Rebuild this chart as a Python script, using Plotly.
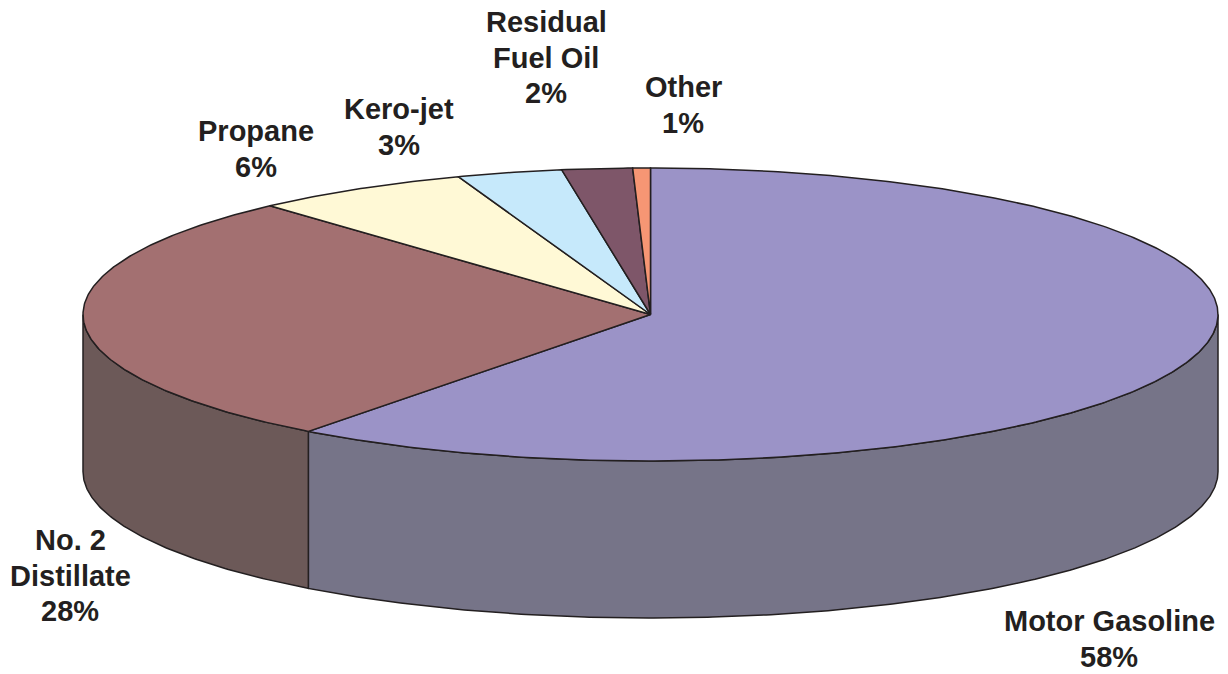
import numpy as np
import plotly.graph_objects as go

# Slice sizes as drawn (share of the full turn)
categories = ["Motor Gasoline", "No. 2 Distillate", "Propane", "Kero-jet", "Residual Fuel Oil", "Other"]
drawn_shares = [60.3, 28.0, 6.2, 3.0, 2.0, 0.5]
percent_labels = ["58%", "28%", "6%", "3%", "2%", "1%"]
label_lines = [["Motor Gasoline"], ["No. 2", "Distillate"], ["Propane"], ["Kero-jet"], ["Residual", "Fuel Oil"], ["Other"]]
top_colors = ["#9B93C7", "#A37071", "#FFF9D6", "#C6E9FB", "#7E5669", "#F69674"]
side_colors = ["#767488", "#6C5958", None, None, None, None]
label_x = [1109, 70, 256, 399, 546, 683]
label_first_y = [621, 540, 131, 109, 22, 87]

CX, CY, RX, RY, DEPTH = 650.5, 314.5, 567.5, 146.5, 157
LINE_STEP = 35.7
LINE = dict(color="#231F20", width=1.5)


def rim(a0, a1, dy=0.0):
    """Ellipse points between two clockwise angles measured from the top."""
    n = max(2, int(abs(a1 - a0) * 2) + 2)
    t = np.radians(np.linspace(a0, a1, n))
    return CX + RX * np.sin(t), CY - RY * np.cos(t) + dy


edges = 360 * np.concatenate([[0], np.cumsum(drawn_shares)]) / sum(drawn_shares)
fig = go.Figure()

# Side wall: only the front half (90 to 270 degrees) is visible
for i, color in enumerate(side_colors):
    if color is None:
        continue
    a0, a1 = max(edges[i], 90), min(edges[i + 1], 270)
    xt, yt = rim(a0, a1)
    xb, yb = rim(a1, a0, DEPTH)
    fig.add_trace(go.Scatter(
        x=np.r_[xt, xb, xt[0]], y=np.r_[yt, yb, yt[0]], mode="lines",
        fill="toself", fillcolor=color, line=LINE, hoverinfo="skip", showlegend=False))

# Top face
for i, name in enumerate(categories):
    xr, yr = rim(edges[i], edges[i + 1])
    fig.add_trace(go.Scatter(
        x=np.r_[CX, xr, CX], y=np.r_[CY, yr, CY], mode="lines", name=name,
        fill="toself", fillcolor=top_colors[i], line=LINE, hoverinfo="name", showlegend=False))

for lines, pct, x, y0 in zip(label_lines, percent_labels, label_x, label_first_y):
    for k, text in enumerate(lines + [pct]):
        fig.add_annotation(
            x=x, y=y0 + k * LINE_STEP, text=text, showarrow=False, align="center",
            font=dict(family="Liberation Sans, Arial, sans-serif", size=29, color="#231F20", weight="bold"))

fig.update_layout(
    width=1228, height=674, margin=dict(l=0, r=0, t=0, b=0),
    paper_bgcolor="white", plot_bgcolor="white", showlegend=False,
    xaxis=dict(range=[0, 1228], visible=False, fixedrange=True),
    yaxis=dict(range=[674, 0], visible=False, fixedrange=True),
)
fig.write_html("out.html", config={"displayModeBar": False},
               post_script="document.body.style.margin='0';document.body.style.overflow='hidden';")
